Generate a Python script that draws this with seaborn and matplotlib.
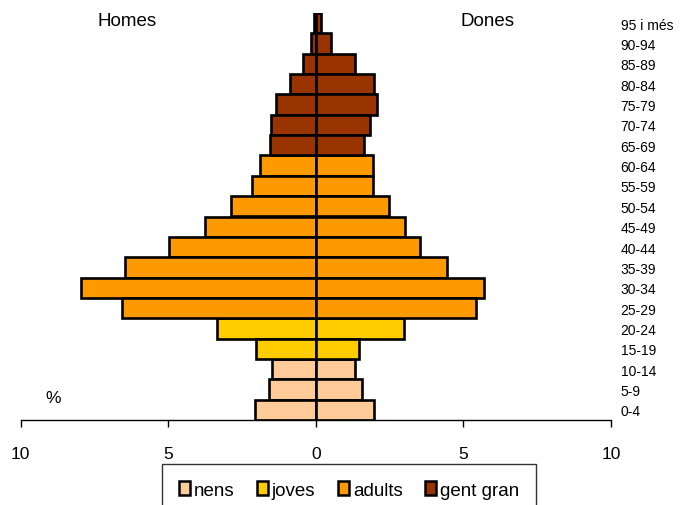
import pandas as pd
import matplotlib.pyplot as plt
import seaborn as sns
from matplotlib.patches import Patch

# age groups, youngest first
ages = ["0-4", "5-9", "10-14", "15-19", "20-24", "25-29", "30-34", "35-39",
        "40-44", "45-49", "50-54", "55-59", "60-64", "65-69", "70-74",
        "75-79", "80-84", "85-89", "90-94", "95 i més"]
homes = [2.06, 1.57, 1.49, 2.03, 3.34, 6.55, 7.96, 6.46, 4.96, 3.76,
         2.88, 2.16, 1.88, 1.55, 1.51, 1.33, 0.87, 0.43, 0.15, 0.05]
dones = [1.97, 1.58, 1.32, 1.46, 2.99, 5.44, 5.71, 4.45, 3.54, 3.03,
         2.47, 1.94, 1.94, 1.63, 1.83, 2.06, 1.98, 1.32, 0.50, 0.18]
grups = ["nens"] * 3 + ["joves"] * 2 + ["adults"] * 8 + ["gent gran"] * 7
grup_noms = ["nens", "joves", "adults", "gent gran"]
colors = {"nens": "#FFCC99", "joves": "#FFCC00", "adults": "#FF9900", "gent gran": "#993300"}

df = pd.DataFrame({"edat": ages, "homes": [-v for v in homes], "dones": dones, "grup": grups})
order = ages[::-1]

plt.rcParams["font.family"] = ["Liberation Sans", "DejaVu Sans"]
fig = plt.figure(figsize=(6.84, 5.06), dpi=100)
ax = fig.add_axes([20.5 / 684, 1 - 421 / 506, (611 - 20.5) / 684, (421 - 14) / 506])

for col in ["homes", "dones"]:
    sns.barplot(data=df, x=col, y="edat", hue="grup", order=order, hue_order=grup_noms,
                palette=colors, saturation=1, dodge=False, orient="h", width=1.0,
                edgecolor="black", linewidth=1.9, legend=False, ax=ax)

ax.set_xlim(-10, 10)
ax.set_ylim(len(ages) - 0.5, -0.5)
ax.set_xticks([-10, -5, 0, 5, 10])
ax.set_xticklabels(["10", "5", "0", "5", "10"], fontsize=12.5)
ax.tick_params(axis="x", direction="out", length=5, width=1, pad=13.5)
ax.yaxis.tick_right()
ax.tick_params(axis="y", length=0, pad=7, labelsize=10)
ax.set_xlabel("")
ax.set_ylabel("")
for s in ["top", "left", "right"]:
    ax.spines[s].set_visible(False)
ax.spines["bottom"].set_linewidth(1)

fig.text(127 / 684, 1 - 22 / 506, "Homes", fontsize=13.5, ha="center", va="center")
fig.text(488 / 684, 1 - 22 / 506, "Dones", fontsize=13.5, ha="center", va="center")
fig.text(53 / 684, 1 - 399 / 506, "%", fontsize=12.5, ha="center", va="center")

handles = [Patch(facecolor=colors[g], edgecolor="black", linewidth=1.8) for g in grup_noms]
leg = fig.legend(handles, grup_noms, loc="upper center", bbox_to_anchor=(349 / 684, 1 - 465 / 506),
                 ncol=4, fontsize=13.5, frameon=True, fancybox=False, edgecolor="black",
                 handlelength=0.6, handleheight=0.8, handletextpad=0.2, columnspacing=1.2,
                 borderpad=0.9, borderaxespad=0)
leg.get_frame().set_linewidth(1)

fig.savefig("out.png", dpi=100)
